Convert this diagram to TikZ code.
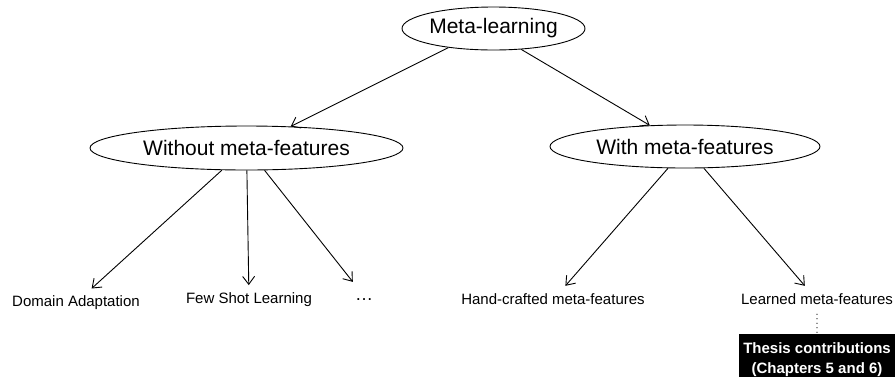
\documentclass[tikz,border=0pt]{standalone}
\usepackage{fontspec}
\setmainfont{Liberation Sans}
\usetikzlibrary{shapes.geometric,arrows.meta}
\begin{document}
\begin{tikzpicture}[x=1pt,y=-1pt,
  ell/.style={ellipse,draw,line width=0.9pt,inner sep=0pt,font=\fontsize{21}{25}\selectfont,minimum height=43pt},
  leaf/.style={font=\fontsize{15}{18}\selectfont,text height=11pt,text depth=3pt,inner xsep=2pt,inner ysep=7pt},
  arr/.style={line width=0.9pt,-{Straight Barb[length=8pt,width=12pt]}},
  thesis/.style={fill=black,text=white,font=\bfseries\fontsize{15}{19.5}\selectfont,align=center,minimum width=156pt,inner xsep=0pt,inner ysep=8.5pt,anchor=north}]
\useasboundingbox (0,0) rectangle (895,376);
\node[ell,minimum width=183pt] (meta) at (493.5,28.5) {Meta-learning};
\node[ell,minimum width=313pt,minimum height=44pt] (without) at (246.5,148) {Without meta-features};
\node[ell,minimum width=270pt] (with) at (685,146.5) {With meta-features};
\node[leaf] (domain) at (76,302.7) {Domain Adaptation};
\node[leaf] (few) at (249,299.3) {Few Shot Learning};
\node[leaf,inner ysep=9pt,font=\fontsize{18}{20}\selectfont] (dots) at (364,296) {…};
\node[leaf] (hand) at (553,300) {Hand-crafted meta-features};
\node[leaf] (learned) at (817,300) {Learned meta-features};
\node[thesis] (thesis) at (817,334) {Thesis contributions\\(Chapters 5 and 6)};
\draw[arr] (meta.-157) -- (without.26.8);
\draw[arr] (meta.-37.7) -- (with.149.6);
\draw[arr] (without.-138) -- (domain);
\draw[arr] (without.-89) -- (few);
\draw[arr] (without.-51.5) -- (dots);
\draw[arr] (with.-128.7) -- (hand);
\draw[arr] (with.-49.8) -- (learned);
\draw[line width=1.1pt,line cap=round,dash pattern=on 0pt off 4.5pt] (learned.south) -- (thesis.north);
\end{tikzpicture}
\end{document}
